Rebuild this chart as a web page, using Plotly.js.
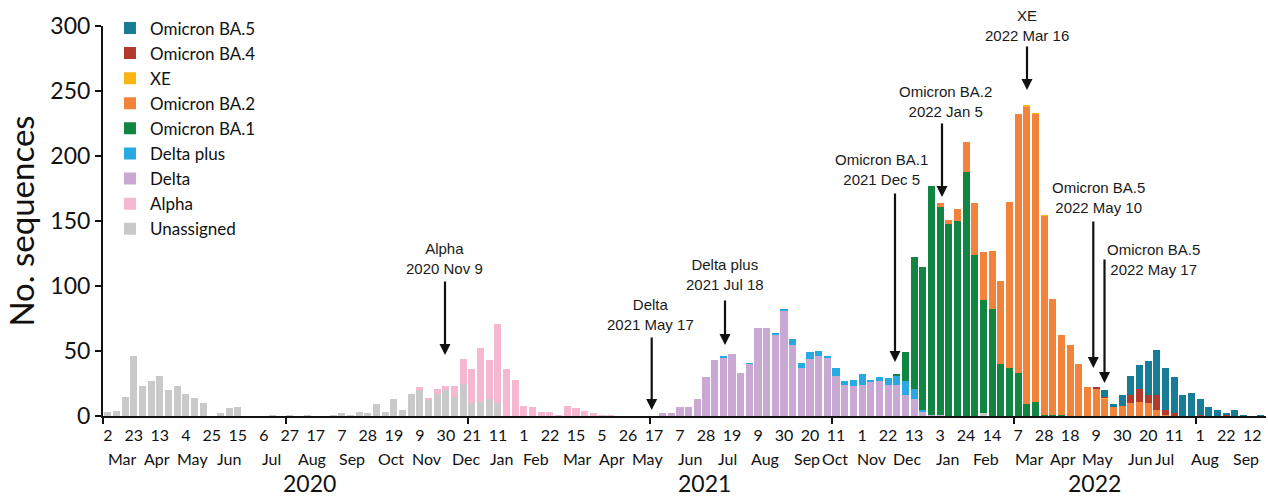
<!DOCTYPE html>
<html>
<head>
<meta charset="utf-8">
<script src="https://cdn.plot.ly/plotly-3.0.1.min.js"></script>
<style>html,body{margin:0;padding:0;background:#fff;}#chart{width:1268px;height:496px;}</style>
</head>
<body>
<div id="chart"></div>
<script>
// Weekly sequence counts, week 0 = 2020 Mar 2 (one value per week, 134 weeks)
const unassigned = [
  3,4,15,46,23,27,31,20,23,17,
  14,10,0,2,6,7,0,0,0,1,
  0,1,0,1,0,0,1,2,1,3,
  2,9,3,13,5,17,20,12,17,20,
  15,25,10,11,13,10,0,0,0,0,
  0,0,0,0,0,0,0,0,0,0,
  0,0,0,0,0,0,0,0,0,0,
  0,0,0,0,0,0,0,0,0,0,
  0,0,0,0,0,0,0,0,0,0,
  0,0,0,0,0,0,0,0,0,0,
  0,2,0,0,0,0,0,0,0,0,
  0,0,0,0,0,0,0,0,0,0,
  0,0,0,0,0,0,0,0,0,0,
  0,0,0,0
];
const alpha = [
  0,0,0,0,0,0,0,0,0,0,
  0,0,0,0,0,0,0,0,0,0,
  0,0,0,0,0,0,0,0,0,0,
  0,0,0,0,0,0,2,2,4,3,
  8,19,26,41,30,61,36,28,8,7,
  3,3,1,8,6,4,2,1,1,0,
  0,0,0,0,0,0,0,0,0,0,
  0,0,0,0,0,0,0,0,0,0,
  0,0,0,0,0,0,0,0,0,0,
  0,0,0,0,0,0,0,0,0,0,
  0,0,0,0,0,0,0,0,0,0,
  0,0,0,0,0,0,0,0,0,0,
  0,0,0,0,0,0,0,0,0,0,
  0,0,0,0
];
const delta = [
  0,0,0,0,0,0,0,0,0,0,
  0,0,0,0,0,0,0,0,0,0,
  0,0,0,0,0,0,0,0,0,0,
  0,0,0,0,0,0,0,0,0,0,
  0,0,0,0,0,0,0,0,0,0,
  0,0,0,0,0,0,0,0,0,0,
  0,0,0,0,2,2,7,7,13,30,
  43,45,48,33,40,68,68,62,81,55,
  37,44,46,45,31,24,23,24,26,27,
  24,24,16,13,3,1,1,0,0,0,
  0,0,0,0,0,0,0,0,0,0,
  0,0,0,0,0,0,0,0,0,0,
  0,0,0,0,0,0,0,0,0,0,
  0,0,0,0
];
const deltaPlus = [
  0,0,0,0,0,0,0,0,0,0,
  0,0,0,0,0,0,0,0,0,0,
  0,0,0,0,0,0,0,0,0,0,
  0,0,0,0,0,0,0,0,0,0,
  0,0,0,0,0,0,0,0,0,0,
  0,0,0,0,0,0,0,0,0,0,
  0,0,0,0,0,0,0,0,0,0,
  0,1,0,0,1,0,0,2,1,4,
  4,5,4,1,6,3,5,8,2,3,
  5,7,11,8,2,0,0,0,0,0,
  0,0,0,0,0,0,0,0,0,0,
  0,0,0,0,0,0,0,0,0,0,
  0,0,0,0,0,0,0,0,0,0,
  0,0,0,0
];
const omicronBA1 = [
  0,0,0,0,0,0,0,0,0,0,
  0,0,0,0,0,0,0,0,0,0,
  0,0,0,0,0,0,0,0,0,0,
  0,0,0,0,0,0,0,0,0,0,
  0,0,0,0,0,0,0,0,0,0,
  0,0,0,0,0,0,0,0,0,0,
  0,0,0,0,0,0,0,0,0,0,
  0,0,0,0,0,0,0,0,0,0,
  0,0,0,0,0,0,0,0,0,0,
  0,1,22,101,110,176,160,148,150,188,
  124,87,82,40,37,33,9,11,1,1,
  1,0,0,0,0,0,0,0,0,0,
  0,0,0,0,0,0,0,0,0,0,
  0,0,0,0
];
const omicronBA2 = [
  0,0,0,0,0,0,0,0,0,0,
  0,0,0,0,0,0,0,0,0,0,
  0,0,0,0,0,0,0,0,0,0,
  0,0,0,0,0,0,0,0,0,0,
  0,0,0,0,0,0,0,0,0,0,
  0,0,0,0,0,0,0,0,0,0,
  0,0,0,0,0,0,0,0,0,0,
  0,0,0,0,0,0,0,0,0,0,
  0,0,0,0,0,0,0,0,0,0,
  0,0,0,0,0,0,3,3,9,23,
  40,37,45,64,128,199,229,221,153,89,
  61,55,40,22,21,13,7,8,10,11,
  10,5,1,0,0,0,0,0,0,0,
  0,0,0,0
];
const xe = [
  0,0,0,0,0,0,0,0,0,0,
  0,0,0,0,0,0,0,0,0,0,
  0,0,0,0,0,0,0,0,0,0,
  0,0,0,0,0,0,0,0,0,0,
  0,0,0,0,0,0,0,0,0,0,
  0,0,0,0,0,0,0,0,0,0,
  0,0,0,0,0,0,0,0,0,0,
  0,0,0,0,0,0,0,0,0,0,
  0,0,0,0,0,0,0,0,0,0,
  0,0,0,0,0,0,0,0,0,0,
  0,0,0,0,0,0,1,1,1,0,
  0,0,0,0,0,1,0,0,0,0,
  0,0,0,0,0,0,0,0,0,0,
  0,0,0,0
];
const omicronBA4 = [
  0,0,0,0,0,0,0,0,0,0,
  0,0,0,0,0,0,0,0,0,0,
  0,0,0,0,0,0,0,0,0,0,
  0,0,0,0,0,0,0,0,0,0,
  0,0,0,0,0,0,0,0,0,0,
  0,0,0,0,0,0,0,0,0,0,
  0,0,0,0,0,0,0,0,0,0,
  0,0,0,0,0,0,0,0,0,0,
  0,0,0,0,0,0,0,0,0,0,
  0,0,0,0,0,0,0,0,0,0,
  0,0,0,0,0,0,0,0,0,0,
  0,0,0,0,1,1,0,0,6,10,
  6,11,4,2,0,0,1,0,0,1,
  0,0,0,0
];
const omicronBA5 = [
  0,0,0,0,0,0,0,0,0,0,
  0,0,0,0,0,0,0,0,0,0,
  0,0,0,0,0,0,0,0,0,0,
  0,0,0,0,0,0,0,0,0,0,
  0,0,0,0,0,0,0,0,0,0,
  0,0,0,0,0,0,0,0,0,0,
  0,0,0,0,0,0,0,0,0,0,
  0,0,0,0,0,0,0,0,0,0,
  0,0,0,0,0,0,0,0,0,0,
  0,0,0,0,0,0,0,0,0,0,
  0,0,0,0,0,0,0,0,0,0,
  0,0,0,0,0,5,2,8,15,18,
  26,35,32,28,16,18,12,7,5,1,
  5,1,0,1
];

// Tick labels: every 3rd week, starting 2020 Mar 2
const dayLabels = ["2","23","13","4","25","15","6","27","17","7","28","19","9","30","21","11","1","22","15","5","26","17","7","28","19","9","30","20","11","1","22","13","3","24","14","7","28","18","9","30","20","11","1","22","12"];
const monthLabels = ["Mar","Apr","May","Jun","Jul","Aug","Sep","Oct","Nov","Dec","Jan","Feb","Mar","Apr","May","Jun","Jul","Aug","Sep","Oct","Nov","Dec","Jan","Feb","Mar","Apr","May","Jun","Jul","Aug","Sep"];
const monthPos = [1.7,5.7,9.8,14.0,18.9,23.6,28.2,32.7,36.8,41.4,45.4,49.4,54.2,58.1,62.2,67.2,71.5,75.8,80.6,83.9,88.1,92.2,96.9,101.3,106.3,110.2,114.1,119.0,121.9,126.6,131.3];
const yearLabels = ["2020","2021","2022"];
const yearPos = [23.3,68.8,113.8];

const seriesNames = ["Unassigned","Alpha","Delta","Delta plus","Omicron BA.1","Omicron BA.2","XE","Omicron BA.4","Omicron BA.5"];
const seriesData = [unassigned, alpha, delta, deltaPlus, omicronBA1, omicronBA2, xe, omicronBA4, omicronBA5];
const seriesColors = ["#c9c9c9","#f5b8d0","#c9a9d4","#29a9e1","#118542","#f3823a","#fbb515","#b3392a","#177d96"];

// Layout geometry
const L = 103, R = 2, T = 26, B = 80, W = 1268, H = 496;
const PX_PER_WEEK = 8.67;
const X0 = -0.55;
const plotW = W - L - R, plotH = H - T - B;
const xRange = [X0, X0 + plotW / PX_PER_WEEK];
const px2x = px => X0 + (px - L) / PX_PER_WEEK;
const py2y = py => (H - B - py) * 300 / plotH;
const py2paper = py => (H - B - py) / plotH;

const weekIdx = unassigned.map((_, i) => i);
const dayTickVals = dayLabels.map((_, i) => i * 3);

const traces = seriesNames.map((name, k) => ({
  type: 'bar', name: name, x: weekIdx, y: seriesData[k],
  marker: {color: seriesColors[k], line: {width: 0}},
  hoverinfo: 'x+y+name'
}));
// helper trace so the tick-mark overlay axis exists
traces.push({type: 'scatter', mode: 'markers', x: [0], y: [0], xaxis: 'x2', yaxis: 'y',
  marker: {opacity: 0}, showlegend: false, hoverinfo: 'skip'});

const arrows = [
  {x: 445, tip: 355, tail: 280},
  {x: 651.7, tip: 410, tail: 336},
  {x: 725, tip: 345, tail: 299},
  {x: 895, tip: 362, tail: 192},
  {x: 942, tip: 197, tail: 122},
  {x: 1027, tip: 90, tail: 45},
  {x: 1093.3, tip: 368, tail: 220},
  {x: 1104.5, tip: 383, tail: 258}
];
const notes = [
  {t: "Alpha<br>2020 Nov 9", x: 444, y: 258},
  {t: "Delta<br>2021 May 17", x: 650.5, y: 314},
  {t: "Delta plus<br>2021 Jul 18", x: 725, y: 274},
  {t: "Omicron BA.1<br>2021 Dec 5", x: 881, y: 169.5},
  {t: "Omicron BA.2<br>2022 Jan 5", x: 945, y: 102},
  {t: "XE<br>2022 Mar 16", x: 1027, y: 25},
  {t: "Omicron BA.5<br>2022 May 10", x: 1098, y: 197.5},
  {t: "Omicron BA.5<br>2022 May 17", x: 1153, y: 259.5}
];

const annotations = [];
arrows.forEach(a => annotations.push({
  xref: 'x', yref: 'y', x: px2x(a.x), y: py2y(a.tip), text: '',
  showarrow: true, ax: 0, ay: -(a.tip - a.tail), arrowhead: 2, arrowsize: 1,
  arrowwidth: 2.2, arrowcolor: '#111'
}));
notes.forEach(n => annotations.push({
  xref: 'x', yref: 'paper', x: px2x(n.x), y: py2paper(n.y), text: n.t, showarrow: false,
  xanchor: 'center', yanchor: 'middle', align: 'center',
  font: {family: 'Liberation Sans, Arial, sans-serif', size: 15, color: '#1a1a1a'}
}));
monthLabels.forEach((m, i) => annotations.push({
  xref: 'x', yref: 'paper', x: monthPos[i], y: py2paper(458), text: m, showarrow: false,
  xanchor: 'center', yanchor: 'middle',
  font: {family: 'Lato, sans-serif', size: 16, color: '#111'}
}));
yearLabels.forEach((yl, i) => annotations.push({
  xref: 'x', yref: 'paper', x: yearPos[i], y: py2paper(483), text: yl, showarrow: false,
  xanchor: 'center', yanchor: 'middle',
  font: {family: 'Lato, sans-serif', size: 23, color: '#111'}
}));

const layout = {
  width: W, height: H,
  margin: {l: L, r: R, t: T, b: B, pad: 0},
  paper_bgcolor: '#fff', plot_bgcolor: '#fff',
  barmode: 'stack', bargap: 0.18,
  font: {family: 'Lato, sans-serif', color: '#111'},
  showlegend: true,
  legend: {
    x: 0.006, y: 1.04, xanchor: 'left', yanchor: 'top',
    traceorder: 'reversed', bgcolor: 'rgba(0,0,0,0)',
    font: {family: 'Lato, sans-serif', size: 17, color: '#111'},
    tracegroupgap: 0
  },
  xaxis: {
    range: xRange, showgrid: false, zeroline: false,
    showline: true, linecolor: '#111', linewidth: 2,
    tickmode: 'array', tickvals: dayTickVals, ticktext: dayLabels,
    ticks: '', tickfont: {family: 'Lato, sans-serif', size: 16, color: '#111'},
    ticklabelstandoff: 4
  },
  xaxis2: {
    range: xRange, overlaying: 'x', anchor: 'y', side: 'bottom',
    showgrid: false, zeroline: false, showline: false,
    tickmode: 'array', tickvals: [-0.5, 20.5, 41.5, 62.5, 83.5, 104.5, 125.5],
    ticks: 'outside', ticklen: 7, tickwidth: 2, tickcolor: '#111',
    showticklabels: false
  },
  yaxis: {
    range: [0, 300], showgrid: false, zeroline: false,
    showline: true, linecolor: '#111', linewidth: 2,
    tickmode: 'array', tickvals: [0, 50, 100, 150, 200, 250, 300],
    ticks: 'outside', ticklen: 6, tickwidth: 2, tickcolor: '#111',
    tickfont: {family: 'Lato, sans-serif', size: 23, color: '#111'},
    title: {text: 'No. sequences', font: {family: 'Lato, sans-serif', size: 33, color: '#111'}, standoff: 6}
  },
  annotations: annotations
};

Plotly.newPlot('chart', traces, layout, {displayModeBar: false, staticPlot: true});
</script>
</body>
</html>
